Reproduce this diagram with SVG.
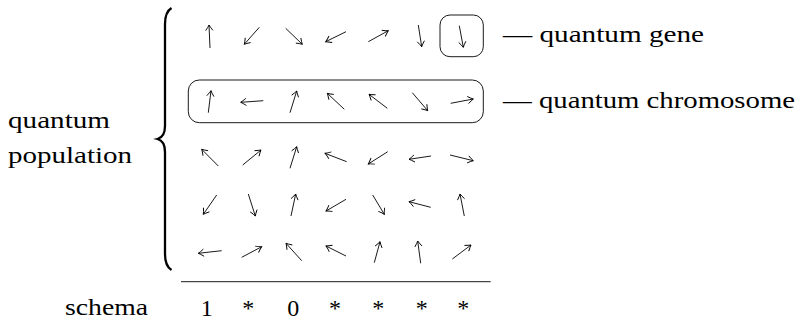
<svg xmlns="http://www.w3.org/2000/svg" width="801" height="320" viewBox="0 0 801 320">
<style>
.ar line{stroke:#000;stroke-width:0.9;marker-end:url(#ah)}
.box{fill:none;stroke:#000;stroke-width:0.9}
</style>
<defs>
<marker id="ah" markerUnits="userSpaceOnUse" markerWidth="14" markerHeight="14" viewBox="-7 -7 14 14" refX="0" refY="0" orient="auto" overflow="visible">
<path d="M-5.5,-3.6 Q-2,-1 0,0 Q-2,1 -5.5,3.6" fill="none" stroke="#000" stroke-width="0.9"/>
</marker>
</defs>
<rect width="801" height="320" fill="#fff"/>
<g font-family="'Liberation Serif', 'Times New Roman', 'DejaVu Serif', serif" font-size="24" fill="#000">
<g id="label-population">
<text x="8" y="128" textLength="102" lengthAdjust="spacingAndGlyphs">quantum</text>
<text x="8" y="163" textLength="124" lengthAdjust="spacingAndGlyphs">population</text>
</g>
<g id="label-gene"><text x="503" y="42" textLength="201" lengthAdjust="spacingAndGlyphs">— quantum gene</text></g>
<g id="label-chromosome"><text x="503" y="108" textLength="292" lengthAdjust="spacingAndGlyphs">— quantum chromosome</text></g>
<g id="schema">
<text x="65" y="315" textLength="83" lengthAdjust="spacingAndGlyphs">schema</text>
<g text-anchor="middle">
<text x="206.7" y="316">1</text>
<text x="248.3" y="316">*</text>
<text x="293.3" y="316">0</text>
<text x="335" y="316">*</text>
<text x="378.3" y="316">*</text>
<text x="421.7" y="316">*</text>
<text x="463.3" y="316">*</text>
</g>
</g>
</g>
<g id="brace">
<path d="M171.5,8 Q165,12 165,24 L165,126 Q165,137 157.5,139 Q165,141 165,152 L165,254 Q165,266 171.5,270" fill="none" stroke="#000" stroke-width="2.3"/>
</g>
<g id="gene-box"><rect class="box" x="440" y="15" width="43.3" height="41.7" rx="10"/></g>
<g id="chromosome-box"><rect class="box" x="188.3" y="80" width="295" height="42.7" rx="11"/></g>
<g id="row1" class="ar">
<line x1="210" y1="48" x2="209" y2="25"/>
<line x1="259.3" y1="27.3" x2="244.3" y2="44.3"/>
<line x1="285.7" y1="28.3" x2="302.3" y2="44.3"/>
<line x1="346" y1="31.7" x2="325.7" y2="41.7"/>
<line x1="368.3" y1="41.7" x2="388.3" y2="30.7"/>
<line x1="418.3" y1="25" x2="421.7" y2="46.7"/>
<line x1="459.3" y1="25.7" x2="463.3" y2="47.3"/>
</g>
<g id="row2" class="ar">
<line x1="208.3" y1="112.7" x2="211" y2="90.7"/>
<line x1="263.3" y1="100.7" x2="240.7" y2="102.3"/>
<line x1="290" y1="112.7" x2="296.7" y2="91"/>
<line x1="344.3" y1="109.3" x2="327.3" y2="93.3"/>
<line x1="387.3" y1="108.3" x2="369" y2="94.3"/>
<line x1="412.3" y1="92.7" x2="427.7" y2="110.7"/>
<line x1="450.7" y1="103.3" x2="473.3" y2="99"/>
</g>
<g id="row3" class="ar">
<line x1="218.3" y1="166" x2="201.7" y2="149.3"/>
<line x1="242.7" y1="165" x2="261" y2="150"/>
<line x1="290" y1="168.3" x2="296.7" y2="146.7"/>
<line x1="346.7" y1="161.7" x2="325" y2="153.3"/>
<line x1="387.7" y1="151.7" x2="368.3" y2="164"/>
<line x1="431" y1="156" x2="409" y2="159.3"/>
<line x1="450" y1="155" x2="473.3" y2="160.7"/>
</g>
<g id="row4" class="ar">
<line x1="216.7" y1="195" x2="203.3" y2="214.3"/>
<line x1="248.3" y1="194" x2="255.3" y2="216"/>
<line x1="291" y1="216" x2="295.7" y2="194"/>
<line x1="346" y1="199.3" x2="326" y2="211"/>
<line x1="372.7" y1="195" x2="384.3" y2="214.3"/>
<line x1="430.7" y1="207.3" x2="409" y2="201.7"/>
<line x1="464.3" y1="216" x2="460" y2="194"/>
</g>
<g id="row5" class="ar">
<line x1="221.7" y1="250.7" x2="198.3" y2="253.3"/>
<line x1="241.7" y1="257.3" x2="261.7" y2="246.7"/>
<line x1="301.7" y1="260.7" x2="286" y2="243.3"/>
<line x1="346" y1="256" x2="326" y2="246"/>
<line x1="374.3" y1="262.7" x2="380" y2="241.7"/>
<line x1="420.7" y1="263.3" x2="417.7" y2="241"/>
<line x1="452.3" y1="259" x2="471" y2="245"/>
</g>
<g id="schema-rule"><line x1="181" y1="281.7" x2="490.7" y2="281.7" stroke="#000" stroke-width="0.9"/></g>
</svg>
